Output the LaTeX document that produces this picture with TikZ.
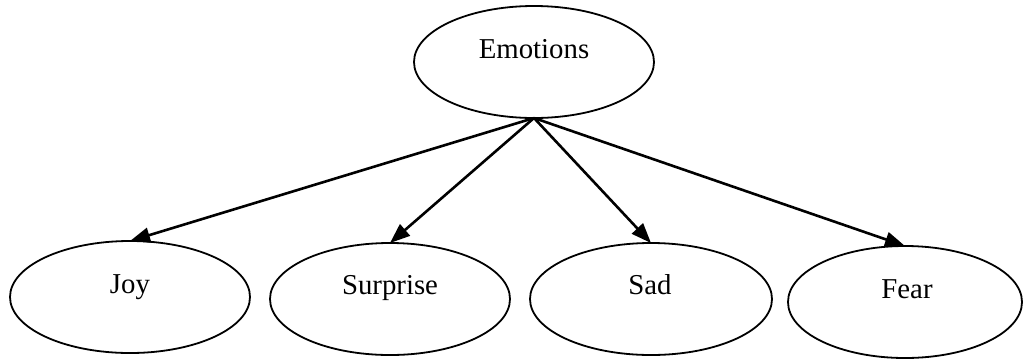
\documentclass[tikz,border=0pt]{standalone}
\usepackage{fontspec}
\setmainfont{Liberation Serif}
\usetikzlibrary{shapes.geometric,arrows.meta}

\tikzset{
  bubble/.style={ellipse, draw=black, line width=1.8pt, minimum width=240pt,
    minimum height=112pt, inner sep=0pt, outer sep=0pt},
  caption/.style={anchor=base, inner sep=0pt, font=\fontsize{28.8}{34}\selectfont},
  link/.style={draw=black, line width=2.6pt,
    -{Triangle[length=20pt,width=15pt]}, shorten >=0pt}
}

\begin{document}
\begin{tikzpicture}[x=1pt, y=-1pt]
  \useasboundingbox (0,0) rectangle (1023,360);

  % ellipses
  \node[bubble] (emo) at (534,62) {};
  \node[bubble] (joy) at (130,297) {};
  \node[bubble] (sur) at (390,299) {};
  \node[bubble, minimum width=242pt] (sad) at (651,299) {};
  \node[bubble, minimum width=234pt] (fear) at (905,302) {};

  % labels, set a little above each centre
  \node[caption] (emoT) at (534,58) {Emotions};
  \node[caption] (joyT) at (130,293) {Joy};
  \node[caption] (surT) at (390,294) {Surprise};
  \node[caption] (sadT) at (650,294) {Sad};
  \node[caption] (fearT) at (907,298) {Fear};

  % connectors
  \draw[link] (emo.south) -- (joy.north);
  \draw[link] (emo.south) -- (sur.north);
  \draw[link] (emo.south) -- (sad.north);
  \draw[link] (emo.south) -- (fear.north);
\end{tikzpicture}
\end{document}
